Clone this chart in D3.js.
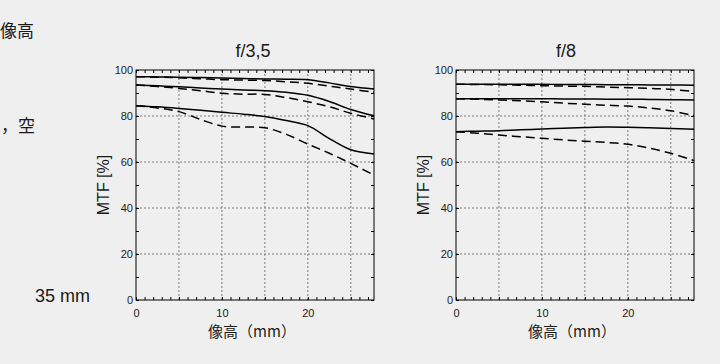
<!DOCTYPE html>
<html>
<head>
<meta charset="utf-8">
<script src="https://cdn.jsdelivr.net/npm/d3@7"></script>
<style>
  body { margin: 0; background: #efefef; }
  svg { display: block; }
  text { font-family: "Liberation Sans", Arial, sans-serif; fill: #1a1a1a; }
  .cjk { font-family: "Noto Sans CJK JP", "Noto Sans CJK SC", sans-serif; }
</style>
</head>
<body>
<svg id="chart" width="720" height="364"></svg>
<script>
// image height (mm) where the curves were read
const imageHeights = [0, 2.5, 5, 7.5, 10, 12.5, 15, 17.5, 20, 22.5, 25, 27.7];

// f/3,5  (solid / dashed, three frequencies from top to bottom)
const f35Solid1  = [97.1, 97.0, 96.9, 96.7, 96.5, 96.3, 96.1, 96.0, 95.8, 94.4, 92.8, 91.7];
const f35Dashed1 = [97.1, 96.9, 96.6, 96.2, 95.8, 95.6, 95.4, 94.9, 94.2, 93.0, 91.7, 90.3];
const f35Solid2  = [93.5, 93.1, 92.7, 92.2, 91.7, 91.3, 91.0, 90.3, 89.0, 86.3, 82.8, 80.1];
const f35Dashed2 = [93.5, 92.8, 92.0, 91.0, 89.9, 89.5, 89.4, 88.0, 86.2, 84.0, 81.2, 78.7];
const f35Solid3  = [84.5, 84.0, 83.3, 82.5, 81.6, 80.8, 79.8, 78.0, 75.8, 70.2, 65.3, 63.5];
const f35Dashed3 = [84.5, 83.5, 81.9, 78.5, 75.6, 75.2, 74.9, 72.0, 67.8, 63.8, 59.4, 54.3];

// f/8
const f8Solid1  = [93.8, 93.8, 93.8, 93.8, 93.8, 93.7, 93.7, 93.6, 93.6, 93.5, 93.5, 93.4];
const f8Dashed1 = [93.8, 93.7, 93.6, 93.4, 93.2, 93.0, 92.9, 92.6, 92.3, 92.0, 91.6, 90.6];
const f8Solid2  = [87.5, 87.5, 87.5, 87.5, 87.5, 87.4, 87.4, 87.3, 87.3, 87.2, 87.1, 87.0];
const f8Dashed2 = [87.5, 87.3, 87.0, 86.6, 86.2, 85.6, 85.1, 84.7, 84.3, 83.5, 82.3, 80.1];
const f8Solid3  = [73.2, 73.4, 73.6, 74.0, 74.3, 74.7, 75.0, 75.2, 75.1, 74.9, 74.6, 74.2];
const f8Dashed3 = [73.2, 72.5, 71.7, 71.0, 70.3, 69.6, 69.0, 68.5, 67.7, 66.0, 63.8, 60.6];

const xTickLabels = [0, 10, 20];
const yTickLabels = [0, 20, 40, 60, 80, 100];
const xGrid = [5, 10, 15, 20, 25];
const yGrid = [20, 40, 60, 80];

class MtfVis {
  constructor(_svg, _left, _title, _titleShift, _solid, _dashed) {
    this.svg = _svg;
    this.left = _left;
    this.title = _title;
    this.titleShift = _titleShift;
    this.solid = _solid;
    this.dashed = _dashed;

    this.initVis();
  }

  initVis() {
    let vis = this;

    vis.margin = { top: 70, left: vis.left };
    vis.width = 238;
    vis.height = 230;

    vis.g = vis.svg.append("g")
      .attr("transform", "translate(" + vis.margin.left + "," + vis.margin.top + ")");

    vis.x = d3.scaleLinear().domain([0, 27.7]).range([0, vis.width]);
    vis.y = d3.scaleLinear().domain([0, 100]).range([vis.height, 0]);

    vis.updateVis();
  }

  updateVis() {
    let vis = this;

    // dotted grid
    vis.g.append("g")
      .selectAll("line")
      .data(xGrid)
      .join("line")
      .attr("x1", d => vis.x(d)).attr("x2", d => vis.x(d))
      .attr("y1", 0).attr("y2", vis.height)
      .attr("stroke", "#7a7a7a")
      .attr("stroke-dasharray", "2,2");

    vis.g.append("g")
      .selectAll("line")
      .data(yGrid)
      .join("line")
      .attr("y1", d => vis.y(d)).attr("y2", d => vis.y(d))
      .attr("x1", 0).attr("x2", vis.width)
      .attr("stroke", "#7a7a7a")
      .attr("stroke-dasharray", "2,2");

    // minor ticks pointing inward
    let minorX = d3.range(0, 28, 1);
    let minorY = d3.range(0, 101, 10);
    let tickStyle = sel => {
      sel.select(".domain").remove();
      sel.selectAll(".tick line").attr("stroke", "#000");
    };
    vis.g.append("g").attr("transform", "translate(0," + vis.height + ")")
      .call(d3.axisBottom(vis.x).tickValues(minorX).tickSize(-3).tickFormat(""))
      .call(tickStyle);
    vis.g.append("g")
      .call(d3.axisTop(vis.x).tickValues(minorX).tickSize(-3).tickFormat(""))
      .call(tickStyle);
    vis.g.append("g")
      .call(d3.axisLeft(vis.y).tickValues(minorY).tickSize(-3).tickFormat(""))
      .call(tickStyle);
    vis.g.append("g").attr("transform", "translate(" + vis.width + ",0)")
      .call(d3.axisRight(vis.y).tickValues(minorY).tickSize(-3).tickFormat(""))
      .call(tickStyle);

    // tick labels
    vis.g.append("g").attr("transform", "translate(0," + vis.height + ")")
      .call(d3.axisBottom(vis.x).tickValues(xTickLabels).tickSize(0).tickPadding(9))
      .call(g => g.select(".domain").remove())
      .selectAll("text")
      .style("font-size", "11px")
      .attr("fill", "#1a1a1a");

    vis.g.append("g")
      .call(d3.axisLeft(vis.y).tickValues(yTickLabels).tickSize(0).tickPadding(3))
      .call(g => g.select(".domain").remove())
      .selectAll("text")
      .style("font-size", "11px")
      .attr("fill", "#1a1a1a");

    // curves
    let line = d3.line()
      .x((d, i) => vis.x(imageHeights[i]))
      .y(d => vis.y(d))
      .curve(d3.curveCatmullRom.alpha(0.5));

    vis.g.append("g")
      .selectAll("path")
      .data(vis.dashed)
      .join("path")
      .attr("d", line)
      .attr("fill", "none")
      .attr("stroke", "#000")
      .attr("stroke-width", 1.5)
      .attr("stroke-dasharray", "9,5");

    vis.g.append("g")
      .selectAll("path")
      .data(vis.solid)
      .join("path")
      .attr("d", line)
      .attr("fill", "none")
      .attr("stroke", "#000")
      .attr("stroke-width", 1.5);

    // frame
    vis.g.append("rect")
      .attr("width", vis.width)
      .attr("height", vis.height)
      .attr("fill", "none")
      .attr("stroke", "#000")
      .attr("stroke-width", 1);

    // labels
    vis.g.append("text")
      .attr("x", vis.width / 2 + vis.titleShift)
      .attr("y", -13)
      .attr("text-anchor", "middle")
      .style("font-size", "18px")
      .text(vis.title);

    vis.g.append("text")
      .attr("transform", "translate(-33," + vis.height / 2 + ") rotate(-90)")
      .attr("text-anchor", "middle")
      .attr("dy", "0.35em")
      .style("font-size", "16px")
      .text("MTF [%]");

    vis.g.append("text")
      .attr("class", "cjk")
      .attr("x", vis.width / 2 - 3)
      .attr("y", vis.height + 37)
      .attr("text-anchor", "middle")
      .style("font-size", "15px")
      .text("像高（mm）");
  }
}

const svg = d3.select("#chart");

// stray page text on the left
svg.append("text").attr("class", "cjk").attr("x", 0).attr("y", 37)
  .style("font-size", "17px").text("像高");
svg.append("text").attr("class", "cjk").attr("x", 1).attr("y", 132)
  .style("font-size", "17px").text("，空");
svg.append("text").attr("x", 35).attr("y", 302)
  .style("font-size", "18px").text("35 mm");

new MtfVis(svg, 136, "f/3,5", -2,
  [f35Solid1, f35Solid2, f35Solid3], [f35Dashed1, f35Dashed2, f35Dashed3]);
new MtfVis(svg, 456, "f/8", -9,
  [f8Solid1, f8Solid2, f8Solid3], [f8Dashed1, f8Dashed2, f8Dashed3]);
</script>
</body>
</html>
